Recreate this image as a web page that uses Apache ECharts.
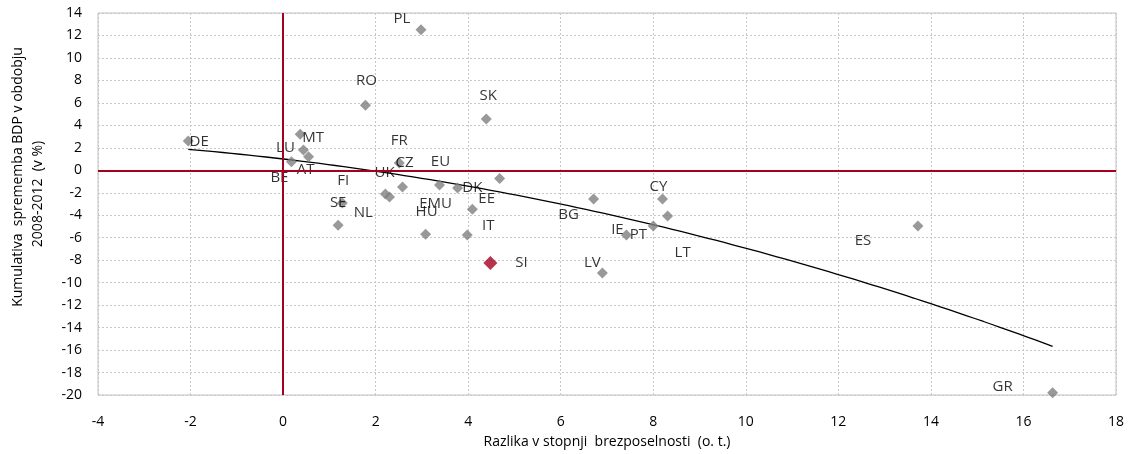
<!DOCTYPE html>
<html><head><meta charset="utf-8">
<script src="https://cdn.jsdelivr.net/npm/echarts@6/dist/echarts.min.js"></script>
<style>html,body{margin:0;padding:0;background:#fff}#c{width:1134px;height:454px}</style>
</head><body><div id="c"></div>
<script>
// Data
const countries = ['DE','PL','RO','SK','MT','LU','AT','BE','FI','SE','NL','UK','FR','CZ','EU','EMU','HU','DK','EE','IT','SI','BG','CY','IE','PT','LT','LV','ES','GR'];
const unemploymentChange = [-2.05, 2.98, 1.78, 4.39, 0.37, 0.44, 0.55, 0.18, 1.28, 1.19, 2.21, 2.30, 2.51, 2.58, 3.38, 3.77, 3.08, 4.09, 4.68, 3.98, 4.48, 6.71, 8.20, 7.42, 8.00, 8.31, 6.90, 13.72, 16.63];
const gdpChange = [2.6, 12.5, 5.8, 4.56, 3.2, 1.8, 1.2, 0.75, -2.9, -4.9, -2.1, -2.37, 0.65, -1.49, -1.32, -1.58, -5.7, -3.47, -0.73, -5.76, -8.25, -2.55, -2.55, -5.76, -4.96, -4.07, -9.15, -4.96, -19.8];
const highlighted = ['SI'];
const xTickRange = {min: -4, max: 18, step: 2};
const yTickRange = {min: -20, max: 14, step: 2};
const xTitle = 'Razlika v stopnji  brezposelnosti  (o. t.)';
const yTitleLine1 = 'Kumulativa  sprememba BDP v obdobju';
const yTitleLine2 = '2008-2012  (v %)';

// Label placement (pixel offsets from each marker), kept apart from data
const labelOffsets = {
  DE:[11,1], PL:[-19,-11], RO:[1,-24], SK:[2,-23], MT:[13,3], LU:[-18,-2], AT:[-3,13], BE:[-12,16],
  FI:[1,-22], SE:[0,-23], NL:[-22,19], UK:[-5,-24], FR:[0,-22], CZ:[2,-24], EU:[1,-23], EMU:[-22,16],
  HU:[1,-23], DK:[0,-22], EE:[-13,20], IT:[21,-9], SI:[31,0], BG:[-25,16], CY:[-4,-12], IE:[-9,-5],
  PT:[-15,9], LT:[15,37], LV:[-10,-10], ES:[-55,15], GR:[-50,-6]
};

const FONT = 'Open Sans';
function item(i){
  const n = countries[i];
  return {name:n, value:[unemploymentChange[i], gdpChange[i]],
    label:{offset: labelOffsets[n] || [0,-20]}};
}
const normal = [], special = [];
countries.forEach((c,i)=>{ (highlighted.includes(c)?special:normal).push(item(i)); });

// Quadratic least-squares trend (as the spreadsheet trendline) computed from the data
function polyFit(xs, ys){
  let S=[0,0,0,0,0], T=[0,0,0];
  for(let i=0;i<xs.length;i++){
    const x=xs[i], y=ys[i];
    for(let k=0;k<5;k++) S[k]+=Math.pow(x,k);
    for(let k=0;k<3;k++) T[k]+=y*Math.pow(x,k);
  }
  const A=[[S[0],S[1],S[2],T[0]],[S[1],S[2],S[3],T[1]],[S[2],S[3],S[4],T[2]]];
  for(let c=0;c<3;c++){
    let p=c; for(let r=c+1;r<3;r++) if(Math.abs(A[r][c])>Math.abs(A[p][c])) p=r;
    [A[c],A[p]]=[A[p],A[c]];
    for(let r=0;r<3;r++){ if(r===c) continue; const f=A[r][c]/A[c][c]; for(let k=c;k<4;k++) A[r][k]-=f*A[c][k]; }
  }
  return [A[0][3]/A[0][0], A[1][3]/A[1][1], A[2][3]/A[2][2]];
}
const coef = polyFit(unemploymentChange, gdpChange);
const xMin = Math.min(...unemploymentChange), xMax = Math.max(...unemploymentChange);
const trend = [];
for(let k=0;k<=100;k++){ const x = xMin + (xMax-xMin)*k/100; trend.push([x, coef[0]+coef[1]*x+coef[2]*x*x]); }

const chart = echarts.init(document.getElementById('c'), null, {renderer:'canvas'});
const labelStyle = {show:true, position:'inside', formatter:'{b}', color:'#000', fontFamily:FONT, fontSize:15,
  textBorderWidth:0, textShadowBlur:0};
chart.setOption({
  animation:false,
  backgroundColor:'#fff',
  textStyle:{fontFamily:FONT},
  grid:{left:98, right:18, top:13, bottom:59, show:true, borderColor:'#c0c0c0', borderWidth:1},
  xAxis:{type:'value', min:xTickRange.min, max:xTickRange.max, interval:xTickRange.step,
    axisLine:{show:false}, axisTick:{show:false},
    axisLabel:{color:'#000', fontSize:14, fontFamily:FONT, margin:20},
    splitLine:{show:true, lineStyle:{color:'#c8c8c8', type:[2,2], width:1}},
    name:xTitle, nameLocation:'middle', nameGap:40,
    nameTextStyle:{color:'#000', fontSize:14, fontFamily:FONT}},
  yAxis:{type:'value', min:yTickRange.min, max:yTickRange.max, interval:yTickRange.step,
    axisLine:{show:false}, axisTick:{show:false},
    axisLabel:{color:'#000', fontSize:14, fontFamily:FONT, margin:16},
    splitLine:{show:true, lineStyle:{color:'#c8c8c8', type:[2,2], width:1}}},
  graphic:[
    {type:'text', x:18, y:177, rotation:Math.PI/2, style:{text:yTitleLine1, fill:'#000', font:'14px "Open Sans"', textAlign:'center', textVerticalAlign:'middle'}},
    {type:'text', x:38, y:194, rotation:Math.PI/2, style:{text:yTitleLine2, fill:'#000', font:'14px "Open Sans"', textAlign:'center', textVerticalAlign:'middle'}}
  ],
  series:[
    {type:'line', data:[], z:1, silent:true,
      markLine:{silent:true, symbol:['none','none'], label:{show:false},
        lineStyle:{color:'#a50021', width:2, type:'solid'},
        data:[{xAxis:0},{yAxis:0}]}},
    {type:'line', data:trend, showSymbol:false, symbol:'none', z:2, silent:true,
      lineStyle:{color:'#000', width:1.3}},
    {type:'scatter', data:normal, symbol:'diamond', symbolSize:11, z:3,
      itemStyle:{color:'#808080'}, label:labelStyle},
    {type:'scatter', data:special, symbol:'diamond', symbolSize:14, z:4,
      itemStyle:{color:'#a50021'}, label:labelStyle}
  ]
});
</script></body></html>
